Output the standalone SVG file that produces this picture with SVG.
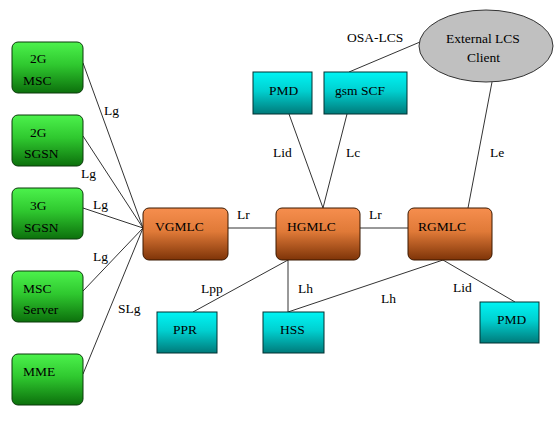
<svg xmlns="http://www.w3.org/2000/svg" width="554" height="438" viewBox="0 0 554 438" font-family="'Liberation Serif', 'DejaVu Serif', serif" font-size="13.5">
<defs>
<linearGradient id="gGreen" x1="0" y1="0" x2="0" y2="1">
<stop offset="0" stop-color="#4cf24c"/><stop offset="0.45" stop-color="#2fc82f"/><stop offset="1" stop-color="#0c700c"/>
</linearGradient>
<linearGradient id="gOrange" x1="0" y1="0" x2="0" y2="1">
<stop offset="0" stop-color="#f68e4e"/><stop offset="0.45" stop-color="#e07a38"/><stop offset="1" stop-color="#7e3408"/>
</linearGradient>
<linearGradient id="gCyan" x1="0" y1="0" x2="0" y2="1">
<stop offset="0" stop-color="#00f4f4"/><stop offset="0.45" stop-color="#00d0d0"/><stop offset="1" stop-color="#007a7a"/>
</linearGradient>
</defs>
<style>
text{font-family:'Liberation Serif','DejaVu Serif',serif;font-size:13.5px;fill:#000}
.g{fill:url(#gGreen);stroke:#0a3a0a;stroke-width:1}
.o{fill:url(#gOrange);stroke:#3a1800;stroke-width:1}
.c{fill:url(#gCyan);stroke:#003030;stroke-width:1}
.l{stroke:#333;stroke-width:1;fill:none}
</style>
<rect width="554" height="438" fill="#fff"/>
<g id="connectors">
<line class="l" x1="83" y1="63" x2="143" y2="228"/>
<line class="l" x1="83" y1="136" x2="143" y2="228"/>
<line class="l" x1="83" y1="208" x2="143" y2="228"/>
<line class="l" x1="83" y1="291" x2="143" y2="228"/>
<line class="l" x1="83" y1="374" x2="143" y2="228"/>
<line class="l" x1="228" y1="228" x2="276" y2="228"/>
<line class="l" x1="360" y1="228" x2="408" y2="228"/>
<line class="l" x1="289" y1="114" x2="323" y2="208"/>
<line class="l" x1="347" y1="114" x2="323" y2="208"/>
<line class="l" x1="349" y1="72" x2="420" y2="42"/>
<line class="l" x1="492" y1="82" x2="468" y2="208"/>
<line class="l" x1="288" y1="260" x2="193" y2="312"/>
<line class="l" x1="288" y1="260" x2="288" y2="312"/>
<line class="l" x1="288" y1="312" x2="443" y2="260"/>
<line class="l" x1="443" y1="260" x2="515" y2="302"/>
<text x="104" y="115">Lg</text>
<text x="81" y="178">Lg</text>
<text x="93" y="209">Lg</text>
<text x="93" y="261">Lg</text>
<text x="118" y="313">SLg</text>
<text x="237" y="219">Lr</text>
<text x="369" y="219">Lr</text>
<text x="273" y="157">Lid</text>
<text x="346" y="157">Lc</text>
<text x="490" y="157">Le</text>
<text x="347" y="42">OSA-LCS</text>
<text x="201" y="293">Lpp</text>
<text x="298" y="293">Lh</text>
<text x="381" y="303">Lh</text>
<text x="453" y="292">Lid</text>
</g>
<g id="msc2g"><rect class="g" x="12" y="42" width="71" height="51" rx="6"/><text x="30" y="63">2G</text><text x="23" y="85">MSC</text></g>
<g id="sgsn2g"><rect class="g" x="12" y="115" width="71" height="51" rx="6"/><text x="30" y="137">2G</text><text x="24" y="158">SGSN</text></g>
<g id="sgsn3g"><rect class="g" x="12" y="188" width="71" height="51" rx="6"/><text x="30" y="210">3G</text><text x="24" y="232">SGSN</text></g>
<g id="mscserver"><rect class="g" x="12" y="271" width="71" height="51" rx="6"/><text x="23" y="293">MSC</text><text x="23" y="314">Server</text></g>
<g id="mme"><rect class="g" x="12" y="354" width="71" height="51" rx="6"/><text x="23" y="376">MME</text></g>
<g id="vgmlc"><rect class="o" x="143" y="208" width="85" height="52" rx="6"/><text x="155" y="231">VGMLC</text></g>
<g id="hgmlc"><rect class="o" x="276" y="208" width="84" height="52" rx="6"/><text x="287" y="231">HGMLC</text></g>
<g id="rgmlc"><rect class="o" x="408" y="208" width="84" height="52" rx="6"/><text x="418" y="231">RGMLC</text></g>
<g id="pmdTop"><rect class="c" x="253" y="72" width="59" height="42"/><text x="269" y="95">PMD</text></g>
<g id="gsmscf"><rect class="c" x="324" y="72" width="83" height="42"/><text x="335" y="95">gsm SCF</text></g>
<g id="ppr"><rect class="c" x="157" y="312" width="60" height="41"/><text x="173" y="334">PPR</text></g>
<g id="hss"><rect class="c" x="263" y="312" width="61" height="41"/><text x="280" y="334">HSS</text></g>
<g id="pmdRight"><rect class="c" x="480" y="302" width="59" height="41"/><text x="497" y="324">PMD</text></g>
<g id="externalClient"><ellipse cx="486" cy="46" rx="67" ry="36" fill="#c0c0c0" stroke="#333" stroke-width="1"/><text x="446" y="43">External LCS</text><text x="467" y="62">Client</text></g>
</svg>
